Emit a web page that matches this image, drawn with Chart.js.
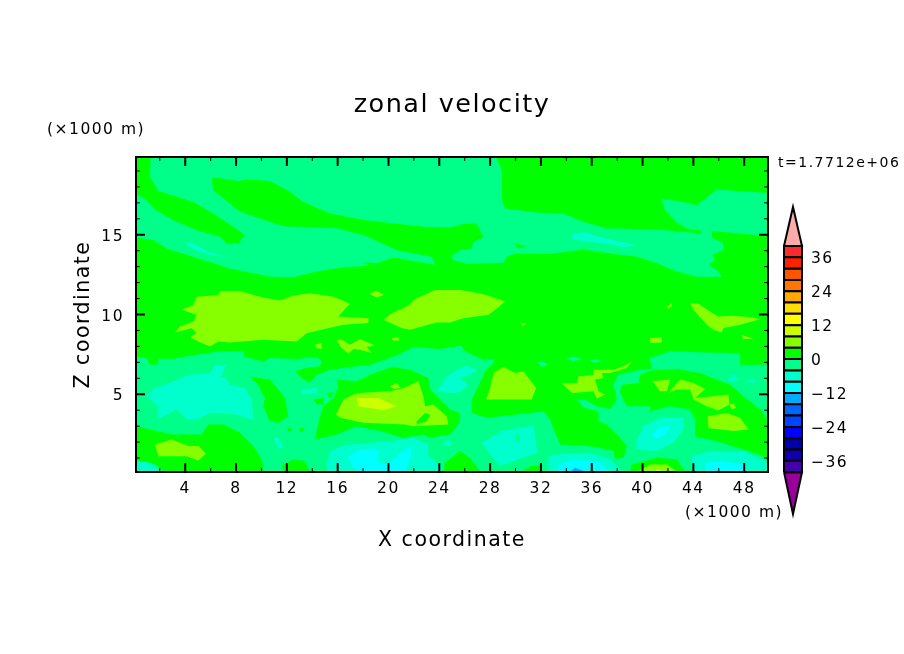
<!DOCTYPE html>
<html>
<head>
<meta charset="utf-8">
<title>zonal velocity</title>
<style>
  html, body { margin: 0; background: #fff; }
  canvas { position: absolute; left: 0; top: 0; }
</style>
<script src="https://cdn.jsdelivr.net/npm/chart.js@4/dist/chart.umd.min.js"></script>
</head>
<body>
<canvas id="field" width="904" height="654"></canvas>
<canvas id="colorbar" width="904" height="654"></canvas>
<script>
// Axis ranges and ticks, in units of 1000 m
const xRange = [0.125, 49.875];
const zRange = [0.125, 19.875];
const xTicks = [4, 8, 12, 16, 20, 24, 28, 32, 36, 40, 44, 48];
const xMinorTicks = [2, 6, 10, 14, 18, 22, 26, 30, 34, 38, 42, 46];
const zTicks = [5, 10, 15];
const zMinorTicks = [1, 2, 3, 4, 6, 7, 8, 9, 11, 12, 13, 14, 16, 17, 18, 19];

// Colour bar levels (every 4) and labels
const barLevels = [-40, -36, -32, -28, -24, -20, -16, -12, -8, -4, 0, 4, 8, 12, 16, 20, 24, 28, 32, 36, 40];
const barColors = ['#4400aa', '#1100aa', '#0000aa', '#0000ff', '#0044ff', '#0066ff', '#00aaff', '#00ffff', '#00ffcc', '#00ff88',
  '#00ff00', '#88ff00', '#ccff00', '#ffff00', '#ffdd00', '#ffaa00', '#ff7700', '#ff5500', '#ff2000', '#ff2a2a'];
const barTicks = [36, 24, 12, 0, -12, -24, -36];
const barTips = { top: 53.8, bottom: -54.8 };

// Contour regions, as [x, z]
const wholeField = [[0.125, 0.125], [49.875, 0.125], [49.875, 19.875], [0.125, 19.875]];

// -4..0 band
const upperSpring = [[0.125,19.875],[49.875,19.875],[49.875,14.92],[45.45,15.23],[45.45,14.83],[46.37,14.46],[46.37,14.04],[45.5,13.73],[45.71,13.42],[45.19,13.1],[45.84,12.79],[46.24,12.37],[44.27,12.37],[42.69,12.69],[41.12,13.21],[39.55,13.62],[37.45,13.83],[35.35,14.08],[34.03,13.94],[32.72,13.79],[30.1,13.83],[29.36,13.67],[29.05,13.25],[26.16,13.17],[25.11,13.42],[24.45,13.1],[23.74,13.1],[20.38,13.58],[19.07,13.21],[18.02,13.27],[18.55,13.06],[16.45,12.96],[14.35,12.69],[12.51,12.33],[10.67,12.37],[7.52,12.89],[5.42,13.42],[2.54,14.14],[1.49,14.67],[0.125,14.83]];
const lowerSpring = [[0.125,7.37],[0.96,7.27],[1.22,6.85],[1.88,6.89],[1.88,7.23],[3.06,7.23],[4.9,7.48],[6.74,7.69],[8.57,7.69],[8.7,7.37],[9.36,7.21],[10.15,7.06],[10.67,7.27],[12.77,7.21],[14.35,7.33],[14.74,7.06],[14.61,6.75],[13.43,6.64],[12.64,6.44],[13.3,5.92],[13.82,5.75],[14.35,6.23],[15.4,6.54],[16.97,6.71],[18.55,6.85],[20.38,7.37],[21.04,7.58],[21.96,7.96],[24.06,7.83],[25.63,8.04],[25.77,7.96],[26.03,7.69],[27.34,7.21],[28.39,7.16],[28.13,6.85],[27.6,6.44],[26.95,5.29],[26.55,4.67],[26.55,3.83],[27.73,3.52],[30.1,3.73],[32.2,3.94],[32.72,3.42],[33.11,2.58],[33.51,1.85],[35.35,1.79],[36.66,1.65],[37.7,1.44],[37.84,0.96],[38.5,1.02],[38.76,1.75],[38.23,2.27],[37.18,3.1],[36.53,3.31],[36.53,3.94],[35.35,4.15],[34.82,4.67],[35.35,4.71],[36.4,4.25],[37.45,4.08],[37.97,4.67],[37.7,5.6],[38.1,6.23],[39.81,6.54],[40.73,6.58],[40.54,7.27],[42.17,7.69],[45.06,7.62],[47.68,7.58],[47.68,6.85],[49.875,6.85],[49.875,0.125],[0.125,0.125]];

// 0..4 band, painted over the -4..0 regions
const greenArm = [[0.125,19.875],[1.28,19.875],[1.22,18.62],[1.88,17.75],[4.64,17.06],[6.21,16.33],[8.05,15.35],[8.7,14.98],[8.18,14.46],[7.26,14.46],[6.74,14.87],[4.9,15.29],[3.06,15.91],[1.62,16.58],[0.96,17.17],[0.125,17.58]];
const greenBand = [[6.08,18.52],[6.47,18.58],[8.18,18.37],[8.84,18.46],[10.67,18.37],[12.25,17.69],[13.3,17.06],[15.4,16.33],[18.02,15.92],[22.75,15.5],[24.85,15.46],[25.9,15.67],[26.89,15.71],[27.08,15.5],[27.47,14.83],[26.68,14.56],[26.55,14.14],[25.63,14.04],[24.98,13.67],[25.11,13.31],[24.58,13.1],[23.67,13.1],[23.4,13.62],[20.65,14.04],[18.02,14.98],[15.92,15.4],[11.72,15.54],[8.31,16.44],[6.21,17.79]];
const greenTopRight = [[28.47,19.875],[28.92,19.04],[28.92,17.17],[29.18,16.65],[31.67,16.39],[33.77,16.33],[35.35,15.81],[37.18,15.4],[41.12,15.33],[43.22,15.19],[44.53,15.08],[44.58,15.29],[43.61,15.35],[42.69,15.75],[41.78,16.54],[41.44,17.27],[43.22,17.06],[44.27,16.85],[45.06,17.37],[45.84,17.83],[49.875,17.62],[49.875,19.875]];
const greenDot = [[29.97,14.46],[30.88,14.25],[30.1,14.19]];
const greenColumn = [[9.1,6.12],[10.67,5.92],[11.33,5.29],[11.85,4.77],[12.12,3.62],[11.33,3.21],[10.67,3.31],[10.15,4.25],[10.28,4.77],[10.02,5.08],[9.76,5.6]];
const greenMoundLeft = [[15.92,5.92],[17.5,5.81],[18.55,6.23],[20.25,6.71],[21.7,6.54],[23.14,6.02],[23.27,5.29],[23.93,4.77],[24.85,4.04],[25.63,3.83],[25.58,3.21],[24.85,2.48],[23.27,2.27],[22.75,2.48],[21.17,2.27],[19.34,2.69],[17.5,3.0],[15.92,2.48],[14.22,2.17],[14.48,3.21],[14.87,4.25],[15.66,4.77],[16.05,5.39]];
const greenBitA = [[14.09,4.67],[14.87,4.77],[14.87,4.35],[14.35,4.35]];
const greenBitB = [[15.14,5.08],[15.71,5.12],[15.4,4.77]];
const greenBitC = [[12.06,2.89],[12.3,2.89],[12.3,2.69],[12.06,2.69]];
const greenBitD = [[13.04,2.89],[13.27,2.89],[13.27,2.69],[13.04,2.69]];
const greenCornerLeft = [[0.125,3.0],[1.22,2.79],[3.06,2.48],[5.29,2.48],[5.82,3.1],[7.0,3.1],[8.31,2.58],[9.36,1.75],[10.02,0.92],[10.2,0.125],[2.41,0.125],[1.62,0.6],[0.125,0.87]];
const greenFloorA = [[11.59,0.5],[12.51,0.92],[13.43,0.81],[13.82,0.125],[11.85,0.125]];
const greenFloorB = [[24.32,0.125],[24.45,0.71],[25.63,1.44],[26.42,1.02],[27.26,0.125]];
const greenFloorC = [[39.02,0.125],[39.15,0.6],[41.12,1.02],[42.69,0.92],[43.35,0.125]];
const greenFloorD = [[30.49,0.125],[31.15,0.5],[31.94,0.5],[32.0,0.125]];
const greenMoundRight = [[38.23,5.08],[38.76,4.25],[40.6,4.25],[40.6,3.94],[42.17,4.25],[43.74,4.04],[44.14,3.42],[44.14,2.37],[45.84,2.06],[47.94,1.54],[49.875,1.02],[49.875,3.42],[49.26,4.04],[47.94,4.87],[46.9,5.6],[44.53,6.33],[42.69,6.58],[40.86,6.54],[39.81,6.23],[39.68,5.71],[38.36,5.6]];

// -4..0 specks left in the green
const springSpeckA = [[33.98,7.27],[34.56,7.37],[35.22,7.21],[34.56,7.06]];
const springSpeckB = [[35.87,7.1],[36.26,7.23],[36.79,7.06],[36.26,6.96]];
const springSpeckC = [[31.72,7.0],[32.2,7.06],[32.51,6.85],[32.07,6.71]];
const springSpeckD = [[22.22,7.06],[22.88,6.96],[22.75,6.75],[22.35,6.85]];

// -8..-4 band
const aquaUpperA = [[4.11,14.56],[4.64,14.46],[5.82,13.94],[7.13,13.62],[6.34,13.67],[5.16,13.94],[4.11,14.35]];
const aquaUpperB = [[34.3,14.98],[35.35,15.19],[36.4,14.92],[37.7,14.67],[39.55,14.35],[38.5,14.21],[37.7,14.35],[35.87,14.56],[34.56,14.71]];
const aquaLeft = [[0.91,4.87],[1.62,5.39],[3.06,5.81],[4.24,6.23],[5.95,6.33],[6.34,6.85],[7.26,6.85],[6.74,6.02],[7.13,6.12],[7.52,5.6],[8.7,5.39],[9.23,4.67],[9.36,3.35],[8.05,3.73],[5.95,3.83],[5.03,3.46],[4.11,3.42],[3.32,4.04],[1.88,3.42],[1.88,4.25]];
const aquaMiddle = [[23.8,5.19],[24.58,6.12],[25.63,6.64],[26.16,6.79],[26.95,6.54],[26.42,6.23],[25.63,6.02],[26.29,5.6],[25.63,5.12],[24.85,5.08]];
const aquaFloorA = [[15.14,0.71],[15.4,1.44],[16.71,1.85],[20.12,2.06],[21.96,2.27],[23.14,1.85],[23.14,1.12],[24.06,0.6],[24.19,0.125],[15.14,0.125]];
const aquaCorner = [[0.125,0.81],[1.22,0.71],[2.27,0.125],[0.125,0.125]];
const aquaSpeckA = [[24.32,2.06],[24.85,2.17],[24.98,1.75],[24.45,1.75]];
const aquaSpeckB = [[10.94,2.27],[11.33,2.27],[11.72,1.65],[11.33,1.58]];
const aquaSpeckC = [[13.17,5.29],[14.35,5.39],[14.35,5.08],[13.17,4.98]];
const aquaSpeckD = [[46.76,6.02],[47.16,6.23],[47.63,5.87],[46.76,5.81]];
const aquaSpeckE = [[48.26,5.87],[48.86,5.96],[48.86,5.75],[48.26,5.75]];
const aquaCentre = [[27.34,1.96],[28.92,2.69],[31.41,3.04],[31.72,1.33],[28.78,0.5],[28.0,1.23]];
const aquaFloorB = [[32.59,1.12],[33.77,1.29],[35.87,1.33],[37.45,0.92],[38.5,0.125],[32.59,0.125]];
const aquaFloorC = [[43.88,1.12],[45.32,1.44],[47.94,1.44],[49.875,0.71],[49.875,0.125],[43.88,0.125]];
const aquaRight = [[39.49,2.06],[40.07,3.0],[41.38,3.52],[43.22,3.52],[43.22,2.79],[42.43,1.96],[41.12,1.44],[39.55,1.54]];
const springHole = [[30.0,2.48],[30.3,2.48],[30.3,2.06],[30.0,2.06]];

// -12..-8 and -16..-12 bands
const cyanFloorA = [[16.84,1.12],[17.76,1.54],[19.2,1.54],[19.2,0.71],[20.0,0.6],[20.65,1.12],[21.83,1.75],[21.7,0.92],[21.3,0.125],[17.76,0.125],[17.1,0.5]];
const cyanFloorB = [[33.38,0.6],[34.56,0.92],[36.53,0.81],[37.45,0.125],[33.38,0.125]];
const cyanFloorC = [[44.92,0.71],[46.24,0.81],[47.94,0.6],[47.94,0.125],[44.92,0.125]];
const cyanRight = [[40.73,2.48],[41.38,2.96],[42.17,3.0],[41.91,2.54],[41.12,2.21]];
const blueFloor = [[34.22,0.125],[34.69,0.39],[35.61,0.125]];

// 4..8 band
const limeLobeA = [[3.72,10.29],[4.64,10.6],[4.9,11.12],[6.61,11.23],[6.74,11.48],[8.31,11.48],[9.89,11.12],[11.46,10.87],[12.51,11.19],[13.82,11.33],[15.66,11.12],[16.97,10.67],[16.05,9.87],[18.42,9.77],[18.42,9.46],[16.45,9.35],[14.87,9.08],[13.56,8.83],[12.77,8.31],[10.15,8.42],[7.52,8.25],[6.61,8.31],[5.95,8.0],[5.03,8.31],[4.37,8.58],[4.9,8.83],[4.51,9.14],[3.19,8.87],[3.59,9.25],[4.64,9.56],[4.9,9.98]];
const limeLobeB = [[20.25,10.08],[21.44,10.5],[22.22,11.02],[23.67,11.54],[25.63,11.54],[26.42,11.44],[27.73,11.23],[29.18,10.81],[28.4,10.29],[27.87,9.98],[25.9,9.77],[24.85,9.5],[23.8,9.5],[21.7,9.04],[21.04,9.15],[19.6,9.67]];
const limeLobeC = [[43.74,10.71],[44.4,10.67],[45.19,10.25],[45.97,9.87],[47.16,9.92],[48.6,9.83],[49.26,9.71],[47.68,9.35],[46.37,9.15],[46.24,8.87],[45.58,9.04],[45.06,9.35],[44.0,10.29]];
const limeSpeckA = [[18.5,11.29],[19.02,11.5],[19.65,11.23],[19.07,11.06]];
const limeSpeckB = [[41.91,10.5],[42.3,10.71],[42.3,10.54],[42.04,10.35]];
const limeSpeckC = [[40.6,8.52],[41.51,8.58],[41.51,8.25],[40.6,8.21]];
const limeSpeckD = [[47.81,8.73],[48.73,8.46],[47.94,8.46]];
const limeSpeckE = [[30.36,9.46],[30.88,9.46],[30.62,9.29]];
const limeSpeckF = [[14.22,8.1],[14.74,8.21],[14.74,7.85],[14.35,7.89]];
const limeFlake = [[15.92,8.42],[16.32,8.42],[16.97,8.1],[17.76,8.46],[18.94,8.06],[18.29,7.96],[18.68,7.58],[17.76,7.79],[17.24,7.83],[16.84,7.54],[16.19,8.0]];
const limeSpeckG = [[20.25,8.52],[20.78,8.58],[20.86,8.37],[20.38,8.35]];
const limeCornerLeft = [[1.62,1.85],[2.93,2.17],[4.24,1.75],[5.03,1.75],[5.63,1.27],[5.03,0.85],[4.11,1.12],[1.88,1.12]];
const limeCentre = [[15.87,3.73],[16.45,4.67],[17.5,5.08],[20.12,5.19],[21.17,5.39],[22.35,5.81],[22.75,4.87],[22.88,4.25],[23.54,4.35],[24.58,3.62],[24.72,3.1],[21.96,3.0],[21.3,3.1],[18.02,3.21],[16.19,3.52]];
const limeCentreSpeck = [[20.12,5.5],[20.65,5.71],[20.96,5.39],[20.38,5.33]];
const limePatchA = [[27.68,4.67],[28.0,5.39],[28.26,6.33],[29.05,6.71],[29.97,6.33],[30.62,6.44],[31.62,5.39],[31.28,4.67]];
const limePatchB = [[33.64,5.71],[34.82,5.71],[34.95,6.12],[36.13,6.23],[36.13,6.54],[37.7,6.54],[38.5,6.75],[39.15,7.06],[38.76,6.64],[37.45,6.33],[36.79,6.33],[36.92,6.02],[36.26,5.92],[36.53,5.19],[37.05,4.98],[36.4,4.71],[36.13,5.19],[34.43,5.08]];
const limePatchC = [[40.8,5.81],[42.17,5.92],[41.91,5.19],[41.38,5.19]];
const limePatchD = [[42.04,5.08],[42.96,5.92],[44.0,5.71],[44.92,5.33],[44.14,4.77],[46.76,4.98],[46.84,4.35],[45.98,3.98],[45.06,4.25],[44.0,4.67],[43.74,5.29],[42.69,5.29]];
const limePatchE = [[46.84,4.35],[47.16,4.42],[47.37,4.15],[47.03,4.04]];
const limePatchF = [[45.11,3.62],[46.63,3.83],[47.68,3.52],[48.34,2.79],[47.16,2.69],[45.19,2.89]];
const limeFloor = [[39.55,0.125],[40.6,0.6],[41.91,0.6],[42.75,0.125]];
const greenHole = [[22.22,3.31],[22.88,3.83],[23.27,3.73],[23.01,3.31],[22.22,3.1]];

// 8..12 band
const yellowCentre = [[17.5,4.77],[19.2,4.77],[20.65,4.25],[19.6,4.0],[17.63,4.25]];
const yellowFloor = [[40.86,0.125],[41.25,0.29],[41.65,0.125]];

// Paint order, bottom to top
const paintLayers = [
  ['#00ff00', [wholeField]],
  ['#00ff88', [upperSpring, lowerSpring]],
  ['#00ff00', [greenArm, greenBand, greenTopRight, greenDot, greenColumn, greenMoundLeft, greenBitA, greenBitB, greenBitC, greenBitD,
    greenCornerLeft, greenFloorA, greenFloorB, greenFloorC, greenFloorD, greenMoundRight]],
  ['#00ff88', [springSpeckA, springSpeckB, springSpeckC, springSpeckD]],
  ['#00ffcc', [aquaUpperA, aquaUpperB, aquaLeft, aquaMiddle, aquaFloorA, aquaCorner, aquaSpeckA, aquaSpeckB, aquaSpeckC, aquaSpeckD, aquaSpeckE,
    aquaCentre, aquaFloorB, aquaFloorC, aquaRight]],
  ['#00ff88', [springHole]],
  ['#00ffff', [cyanFloorA, cyanFloorB, cyanFloorC, cyanRight]],
  ['#00aaff', [blueFloor]],
  ['#88ff00', [limeLobeA, limeLobeB, limeLobeC, limeSpeckA, limeSpeckB, limeSpeckC, limeSpeckD, limeSpeckE, limeSpeckF, limeFlake, limeSpeckG,
    limeCornerLeft, limeCentre, limeCentreSpeck, limePatchA, limePatchB, limePatchC, limePatchD, limePatchE, limePatchF, limeFloor]],
  ['#00ff00', [greenHole]],
  ['#ccff00', [yellowCentre, yellowFloor]]
];

const textFont = '"DejaVu Sans"';

function toPoints(poly) {
  return poly.map(p => ({ x: p[0], y: p[1] }));
}

// one filled dataset per region; later datasets sit on top
const fieldDatasets = [];
paintLayers.forEach(layer => {
  layer[1].forEach(poly => {
    fieldDatasets.push({
      data: toPoints(poly),
      showLine: true,
      fill: 'shape',
      backgroundColor: layer[0],
      borderWidth: 0,
      pointRadius: 0,
      tension: 0,
      order: -fieldDatasets.length
    });
  });
});

// wide text like the original plot
const wideText = {
  id: 'wideText',
  beforeLayout(chart) { chart.ctx.letterSpacing = '1.5px'; },
  beforeDraw(chart) { chart.ctx.letterSpacing = '1.5px'; }
};

// frame, inward ticks on all four sides and the small labels
const frameAndTicks = {
  id: 'frameAndTicks',
  afterDatasetsDraw(chart) {
    const ctx = chart.ctx;
    const a = chart.chartArea;
    const xs = chart.scales.x;
    const ys = chart.scales.y;
    const tick = (x1, y1, x2, y2, w) => {
      ctx.lineWidth = w;
      ctx.beginPath();
      ctx.moveTo(x1, y1);
      ctx.lineTo(x2, y2);
      ctx.stroke();
    };
    ctx.save();
    ctx.strokeStyle = '#000';
    xTicks.forEach(v => {
      const px = xs.getPixelForValue(v);
      tick(px, a.top, px, a.top + 9, 2);
      tick(px, a.bottom, px, a.bottom - 9, 2);
    });
    xMinorTicks.forEach(v => {
      const px = xs.getPixelForValue(v);
      tick(px, a.top, px, a.top + 4, 1);
      tick(px, a.bottom, px, a.bottom - 4, 1);
    });
    zTicks.forEach(v => {
      const py = ys.getPixelForValue(v);
      tick(a.left, py, a.left + 9, py, 2);
      tick(a.right, py, a.right - 9, py, 2);
    });
    zMinorTicks.forEach(v => {
      const py = ys.getPixelForValue(v);
      tick(a.left, py, a.left + 4, py, 1);
      tick(a.right, py, a.right - 4, py, 1);
    });
    ctx.lineWidth = 2;
    ctx.strokeRect(a.left, a.top, a.right - a.left, a.bottom - a.top);
    ctx.restore();
  },
  afterDraw(chart) {
    const ctx = chart.ctx;
    ctx.save();
    ctx.fillStyle = '#000';
    ctx.textBaseline = 'middle';
    ctx.textAlign = 'left';
    ctx.font = '15.5px ' + textFont;
    ctx.fillText('(×1000 m)', 47, 130);
    ctx.fillText('(×1000 m)', 685, 513);
    ctx.font = '14px ' + textFont;
    ctx.fillText('t=1.7712e+06', 778, 163);
    ctx.restore();
  }
};

new Chart(document.getElementById('field'), {
  type: 'scatter',
  data: { datasets: fieldDatasets },
  plugins: [wideText, frameAndTicks],
  options: {
    responsive: false,
    animation: false,
    devicePixelRatio: 1,
    plugins: {
      legend: { display: false },
      tooltip: { enabled: false },
      title: {
        display: true,
        text: 'zonal velocity',
        color: '#000',
        font: { family: textFont, size: 25.5, weight: 'normal', lineHeight: 1.2 },
        padding: { top: 90, bottom: 36.4 }
      }
    },
    scales: {
      x: {
        type: 'linear',
        min: xRange[0],
        max: xRange[1],
        afterBuildTicks: s => { s.ticks = xTicks.map(v => ({ value: v })); },
        afterFit: s => { s.height = 182; },
        grid: { display: false, drawTicks: false },
        border: { display: false },
        ticks: { color: '#000', padding: 8, maxRotation: 0, font: { family: textFont, size: 15.5 } },
        title: {
          display: true,
          text: 'X coordinate',
          color: '#000',
          font: { family: textFont, size: 20.5 },
          padding: { top: 0, bottom: 101 }
        }
      },
      y: {
        type: 'linear',
        min: zRange[0],
        max: zRange[1],
        afterBuildTicks: s => { s.ticks = zTicks.map(v => ({ value: v })); },
        afterFit: s => { s.width = 136; },
        grid: { display: false, drawTicks: false },
        border: { display: false },
        ticks: { color: '#000', padding: 12, labelOffset: 2, font: { family: textFont, size: 15.5 } },
        title: {
          display: true,
          text: 'Z coordinate',
          color: '#000',
          font: { family: textFont, size: 20.5 },
          padding: { top: 71, bottom: 0 }
        }
      },
      // empty axis that holds the right margin, so the title centres on the page
      rightMargin: {
        type: 'linear',
        position: 'right',
        ticks: { display: false },
        grid: { display: false, drawTicks: false },
        border: { display: false },
        afterFit: s => { s.width = 136; }
      }
    }
  }
});

// colour bar: one closed box per level, plus the two end triangles
const barDatasets = barColors.map((color, i) => ({
  data: toPoints([[0, barLevels[i]], [1, barLevels[i]], [1, barLevels[i + 1]], [0, barLevels[i + 1]], [0, barLevels[i]]]),
  backgroundColor: color
}));
barDatasets.push({
  data: toPoints([[0, barLevels[20]], [1, barLevels[20]], [0.5, barTips.top], [0, barLevels[20]]]),
  backgroundColor: '#ffaaaa'
});
barDatasets.push({
  data: toPoints([[0, barLevels[0]], [1, barLevels[0]], [0.5, barTips.bottom], [0, barLevels[0]]]),
  backgroundColor: '#990099'
});
barDatasets.forEach(d => {
  d.showLine = true;
  d.fill = 'shape';
  d.borderColor = '#000';
  d.borderWidth = 2;
  d.pointRadius = 0;
  d.tension = 0;
  d.clip = false;
});

new Chart(document.getElementById('colorbar'), {
  type: 'scatter',
  data: { datasets: barDatasets },
  plugins: [wideText],
  options: {
    responsive: false,
    animation: false,
    devicePixelRatio: 1,
    layout: { padding: { left: 784, right: 0, top: 207, bottom: 140 } },
    plugins: { legend: { display: false }, tooltip: { enabled: false } },
    scales: {
      x: { type: 'linear', min: 0, max: 1, display: false },
      y: {
        type: 'linear',
        position: 'right',
        min: barTips.bottom,
        max: barTips.top,
        afterBuildTicks: s => { s.ticks = barTicks.map(v => ({ value: v })); },
        afterFit: s => { s.width = 102; },
        grid: { display: false, drawTicks: false },
        border: { display: false },
        ticks: {
          color: '#000',
          padding: 9,
          labelOffset: 2,
          font: { family: textFont, size: 15.5 },
          callback: v => String(v).replace('-', '−')
        }
      }
    }
  }
});
</script>
</body>
</html>
